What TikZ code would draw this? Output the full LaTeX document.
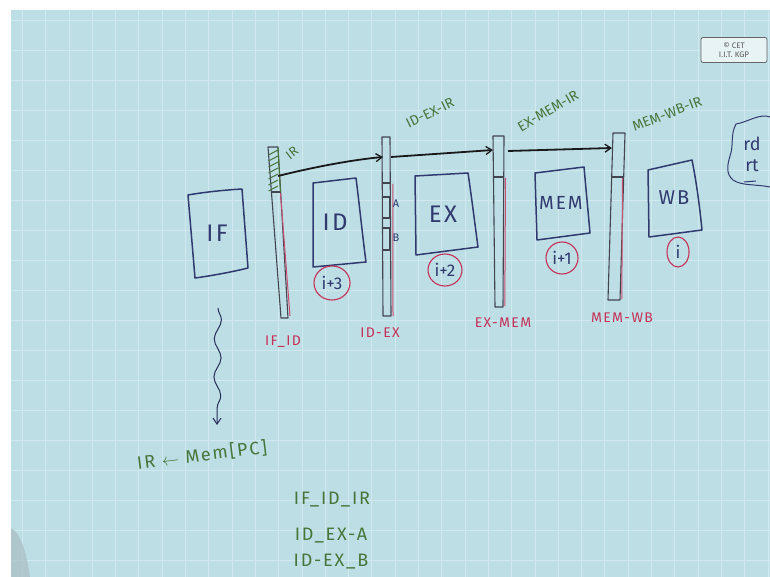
\documentclass[tikz,border=0pt]{standalone}
\usepackage{fontspec}
\setmainfont{Fira Sans}
\newfontfamily\hand[LetterSpace=10]{Fira Sans}
\usetikzlibrary{decorations.pathmorphing,arrows.meta,calc}

\definecolor{board}{RGB}{190,222,230}
\definecolor{gridline}{RGB}{207,233,239}
\definecolor{ink}{RGB}{48,58,110}
\definecolor{redink}{RGB}{196,48,86}
\definecolor{greenink}{RGB}{70,118,58}
\definecolor{regink}{RGB}{66,68,80}

\tikzset{
  stage/.style={draw=ink, line width=1.5pt, line join=round},
  stagelbl/.style={text=ink, font=\hand\fontsize{24}{26}\selectfont},
  count/.style={draw=redink, line width=1.1pt},
  countlbl/.style={text=ink, font=\fontsize{17}{18}\selectfont, inner sep=0pt},
  regname/.style={text=redink, font=\hand\fontsize{14}{15}\selectfont},
  irname/.style={text=greenink, font=\fontsize{14}{15}\selectfont},
  note/.style={text=greenink, font=\hand\fontsize{18}{19}\selectfont, anchor=center},
  regbar/.style={draw=regink, line width=1.1pt, line join=round},
  regred/.style={draw=redink!85, line width=1pt},
  flow/.style={draw=black!90, line width=1.8pt, -{Straight Barb[length=6pt,width=8pt,line width=1.3pt]}},
}

\begin{document}
\begin{tikzpicture}[x=1pt,y=-1pt]
\useasboundingbox (0,0) rectangle (770,577);

% board and its grid
\fill[white] (0,0) rectangle (770,577);
\fill[board] (11,10) rectangle (770,577);
\foreach \i in {0,...,32} \draw[gridline, line width=0.7pt] ({22.3+23.3*\i},10) -- ({22.3+23.3*\i},577);
\foreach \i in {0,...,18} \draw[gridline, line width=0.7pt] (11,{20+30*\i}) -- (770,{20+30*\i});
\fill[gray!35!board, opacity=0.7] (11,528) .. controls (20,532) and (26,550) .. (30,577) -- (11,577) -- cycle;

% logo
\node[draw=black!60, line width=0.8pt, rounded corners=2pt, fill=white!65!board,
      text=black!65, align=center, inner sep=2pt, minimum width=66, minimum height=25,
      font=\fontsize{8}{8.5}\selectfont] (logo) at (734,50) {© CET\\I.I.T. KGP};

% pipeline stages
\draw[stage] (188,195) .. controls (205,192) and (225,190) .. (242,189) -- (248,268)
  .. controls (232,272) and (210,276) .. (195,278) -- cycle;
\node[stagelbl] (lif) at (217,233) {IF};

\draw[stage] (313,183) -- (356,178) .. controls (360,210) and (363,240) .. (366,262) -- (313,267) -- cycle;
\node[stagelbl] (lid) at (335,222) {ID};

\draw[stage] (415,176) -- (468,173) .. controls (472,200) and (475,225) .. (478,247) -- (416,255) -- cycle;
\node[stagelbl] (lex) at (443,214) {EX};

\draw[stage] (535,173) -- (584,167) -- (590,233) -- (537,240) -- cycle;
\node[stagelbl, font=\hand\fontsize{19}{20}\selectfont] (lmem) at (561,203) {MEM};

\draw[stage] (648,170) -- (692,160) .. controls (697,185) and (700,210) .. (702,230) -- (649,237) -- cycle;
\node[stagelbl, font=\hand\fontsize{20}{21}\selectfont] (lwb) at (674,198) {WB};

% instruction counters under the stages
\draw[count] (332,283) ellipse [x radius=18, y radius=17];
\node[countlbl] (c3) at (332,283) {i+3};
\draw[count] (445,270) ellipse [x radius=17, y radius=16];
\node[countlbl] (c2) at (445,270) {i+2};
\draw[count] (562,258) ellipse [x radius=16, y radius=16];
\node[countlbl] (c1) at (562,258) {i+1};
\draw[count] (678,252) ellipse [x radius=11, y radius=15];
\node[countlbl] (c0) at (678,252) {i};

% IF/ID latch with its hatched IR field
\draw[regbar] (268,147) -- (278,147) -- (288,318) -- (281,318) -- cycle;
\draw[regred] (280.5,193) -- (290,316);
\draw[regbar] (270.5,192) -- (280.5,192);
\foreach \k in {0,...,6} \draw[greenink, line width=1pt] (268.5,{155+6*\k}) -- (278,{150+6*\k});
\draw[greenink, line width=1.1pt] (278,148) -- (280.5,192);

% ID/EX latch with A and B fields
\draw[regbar] (382,137) -- (390,137) -- (391,316) -- (383,316) -- cycle;
\draw[regred] (392.8,184) -- (393,316);
\draw[regbar] (382.5,183) -- (390.5,183);
\draw[regbar] (382.5,197) rectangle (390,218);
\draw[regbar] (382.5,228) rectangle (390,250);
\node[text=ink, font=\fontsize{11}{12}\selectfont] (la) at (396,204) {A};
\node[text=ink, font=\fontsize{11}{12}\selectfont] (lb) at (396,238) {B};

% EX/MEM latch
\draw[regbar] (493,136) -- (504,136) -- (503,307) -- (495,307) -- cycle;
\draw[regred] (505.5,178) -- (504.8,306);
\draw[regbar] (493.5,177) -- (503.5,177);

% MEM/WB latch
\draw[regbar] (613,133) -- (625,133) -- (620,300) -- (608,300) -- cycle;
\draw[regred] (622.5,178) -- (621.8,299);
\draw[regbar] (612,177) -- (624,177);

% latch names
\node[regname] (nifid) at (283,342) {IF\_ID};
\node[regname] (nidex) at (380,333) {ID-EX};
\node[regname] (nexmem) at (503,323) {EX-MEM};
\node[regname] (nmemwb) at (622,318) {MEM-WB};

% IR fields carried along the latches
\node[irname, rotate=38, font=\fontsize{13}{14}\selectfont] (irf) at (292,153) {IR};
\node[irname, rotate=26] (iridex) at (430,113) {ID-EX-IR};
\node[irname, rotate=30] (irexmem) at (548,111) {EX-MEM-IR};
\node[irname, rotate=21] (irmemwb) at (667,114) {MEM-WB-IR};

% IR hand-off between latches
\coordinate (p0) at (278,176);
\coordinate (p1) at (383,157);
\coordinate (p2) at (391,157);
\coordinate (p3) at (493,150);
\coordinate (p4) at (508,151);
\coordinate (p5) at (612,148);
\draw[flow] (p0) .. controls (310,168) and (350,160) .. (p1);
\draw[flow] (p2) -- (p3);
\draw[flow] (p4) -- (p5);

% destination registers
\draw[ink, line width=1pt] (770,117) .. controls (760,113) and (748,122) .. (736,124)
  .. controls (730,135) and (734,145) .. (730,156) .. controls (727,166) and (726,174) .. (733,180)
  .. controls (742,186) and (755,184) .. (770,187);
\node[text=ink, font=\fontsize{18}{19}\selectfont] (rd) at (752,144) {rd};
\node[text=ink, font=\fontsize{18}{19}\selectfont] (rt) at (752,166) {rt};
\draw[ink, line width=1pt] (744,182) -- (756,181);

% fetch action
\coordinate (w0) at (218,308);
\coordinate (w1) at (217,425);
\draw[ink!80!black, line width=1pt, decorate,
      decoration={snake, amplitude=3.5pt, segment length=38pt, post length=14pt},
      -{Straight Barb[length=6pt,width=8pt]}] (w0) -- (w1);
\node[note, rotate=7] (fetch) at (202,455) {IR $\leftarrow$ Mem[PC]};

% latch fields
\node[note] (f1) at (332,500) {IF\_ID\_IR};
\node[note] (f2) at (331,536) {ID\_EX-A};
\node[note] (f3) at (331,562) {ID-EX\_B};
\end{tikzpicture}
\end{document}
